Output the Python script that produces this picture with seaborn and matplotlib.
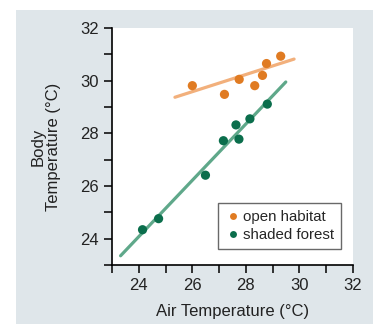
import pandas as pd
import matplotlib.pyplot as plt
import matplotlib.patches as mpatches
from matplotlib.ticker import MultipleLocator
import seaborn as sns

# Data
open_air = [26.0, 27.2, 27.75, 28.33, 28.62, 28.77, 29.3]
open_body = [29.81, 29.48, 30.05, 29.81, 30.2, 30.65, 30.93]
shaded_air = [24.14, 24.74, 26.49, 27.16, 27.63, 27.74, 28.15, 28.8]
shaded_body = [24.34, 24.76, 26.41, 27.72, 28.32, 27.78, 28.55, 29.11]

# Fitted lines (end points)
open_fit_x = [25.35, 29.8]
open_fit_y = [29.37, 30.82]
shaded_fit_x = [23.32, 29.49]
shaded_fit_y = [23.35, 29.95]

x_ticks = [24, 26, 28, 30, 32]
y_ticks = [24, 26, 28, 30, 32]

points = pd.DataFrame({
    'air': open_air + shaded_air,
    'body': open_body + shaded_body,
    'habitat': ['open habitat'] * len(open_air) + ['shaded forest'] * len(shaded_air),
})

sns.set_style('ticks')
plt.rcParams['font.family'] = ['Liberation Sans', 'DejaVu Sans']

fig = plt.figure(figsize=(3.73, 3.24), dpi=100, facecolor='white')
fig.patches.append(mpatches.Rectangle((16 / 373, 0), 1, 1 - 10 / 324,
                                      transform=fig.transFigure,
                                      facecolor='#dfe6ea', edgecolor='none', zorder=-10))
ax = fig.add_axes([112 / 373, 1 - 265 / 324, 241 / 373, 237 / 324])
ax.set_facecolor('white')

sns.lineplot(x=open_fit_x, y=open_fit_y, color='#f2b07c', linewidth=2.3, ax=ax, zorder=1)
sns.lineplot(x=shaded_fit_x, y=shaded_fit_y, color='#5fa88a', linewidth=2.3, ax=ax, zorder=1)
sns.scatterplot(data=points, x='air', y='body', hue='habitat',
                palette={'open habitat': '#e07b22', 'shaded forest': '#0b6e4c'},
                s=44, edgecolor='none', ax=ax, zorder=3)

ax.set_xlim(23, 32)
ax.set_ylim(23, 32)
ax.set_xticks(x_ticks)
ax.set_yticks(y_ticks)
ax.xaxis.set_minor_locator(MultipleLocator(1))
ax.yaxis.set_minor_locator(MultipleLocator(1))
ax.tick_params(which='both', direction='out', length=6, width=1.1, color='black',
               labelsize=12, labelcolor='#222222', pad=3.5)
for side in ['left', 'bottom']:
    ax.spines[side].set_linewidth(1.2)
    ax.spines[side].set_color('black')
sns.despine(ax=ax)

ax.set_xlabel('Air Temperature (°C)', fontsize=12, color='#222222', labelpad=8)
ax.set_ylabel('Body\nTemperature (°C)', fontsize=12, color='#222222', labelpad=14,
              linespacing=1.0)

leg = ax.legend(loc='lower right', bbox_to_anchor=(0.95, 0.068), borderaxespad=0,
                fontsize=10.8, frameon=True, fancybox=False, handletextpad=0.2,
                borderpad=0.45, labelspacing=0.28, handlelength=1.0, markerscale=0.75)
leg.get_frame().set_edgecolor('#444444')
leg.get_frame().set_linewidth(1.0)

fig.savefig('out.png', dpi=100, facecolor=fig.get_facecolor())
